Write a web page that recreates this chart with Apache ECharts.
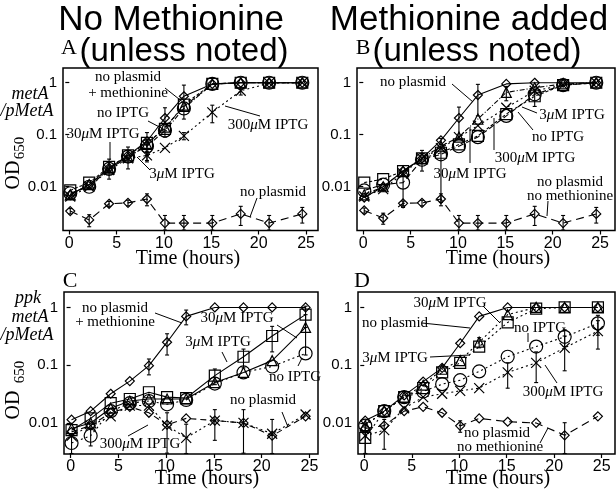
<!DOCTYPE html>
<html><head><meta charset="utf-8">
<script src="https://cdn.jsdelivr.net/npm/echarts@6/dist/echarts.min.js"></script>
<style>html,body{margin:0;padding:0;background:#fff}#c{width:616px;height:495px}</style>
</head><body><div id="c"></div>
<script>
// ---------- data ----------
const times = [0.1, 2.1, 4.2, 6.2, 8.2, 10.1, 12.1, 15.1, 18.1, 21.1, 24.6];
const xTicks = [0, 5, 10, 15, 20, 25];
const yTicks = [0.01, 0.1, 1];

// Panel A: metA/pMetA, no methionine
const A_noIPTG      = [0.0075,0.010,0.022,0.038,0.060,0.12,0.32,0.95,1.0,1.0,1.0];
const A_3uM         = [0.007,0.011,0.022,0.037,0.065,0.14,0.35,0.93,1.0,1.0,1.0];
const A_30uM        = [0.0085,0.012,0.024,0.040,0.070,0.13,0.38,0.95,1.0,1.0,1.0];
const A_300uM       = [0.0065,0.010,0.021,0.035,0.040,0.056,0.095,0.27,0.70,0.98,1.0];
const A_noPlasMet   = [0.007,0.011,0.023,0.040,0.075,0.21,0.55,0.95,1.0,1.0,1.0];
const A_noPlas      = [0.0034,0.0023,0.0047,0.0049,0.0058,0.0020,0.0020,0.0020,0.0030,0.0020,0.0030];
const A_noIPTG_sd    = [0,0,0,0,0.02,0,0,0,0,0,0];
const A_30uM_sd      = [0,0,0.010,0.018,0.04,0,0,0,0,0,0];
const A_300uM_sd     = [0,0,0,0,0.008,0,0.015,0.10,0.12,0,0];
const A_noPlasMet_sd = [0,0,0,0,0,0.12,0.35,0,0,0,0];
const A_noPlas_sd    = [0.0004,0.0006,0.0005,0.0006,0.0015,0.0008,0.0008,0.0008,0.0012,0.0008,0.0010];

// Panel B: metA/pMetA, methionine added
const B_noIPTG      = [0.0085,0.011,0.012,0.033,0.042,0.060,0.090,0.23,0.60,0.90,1.0];
const B_3uM         = [0.007,0.010,0.020,0.035,0.060,0.090,0.20,0.65,0.80,0.95,1.0];
const B_30uM        = [0.012,0.014,0.020,0.035,0.045,0.065,0.095,0.25,0.55,0.90,1.0];
const B_300uM       = [0.0065,0.009,0.018,0.035,0.055,0.090,0.15,0.33,0.70,0.90,1.0];
const B_noPlas      = [0.0062,0.010,0.020,0.035,0.078,0.21,0.58,0.95,1.0,1.0,1.0];
const B_noPlasNoMet = [0.0035,0.0025,0.0048,0.0049,0.0058,0.0020,0.0020,0.0020,0.0030,0.0020,0.0030];
const B_noIPTG_sd    = [0,0,0.008,0,0,0,0,0,0,0,0];
const B_3uM_sd       = [0,0,0,0,0,0,0,0.2,0,0,0];
const B_30uM_sd      = [0,0,0,0.015,0.04,0,0,0,0.2,0,0];
const B_noPlas_sd    = [0,0,0,0,0,0.13,0.35,0,0,0,0];
const B_noPlasNoMet_sd = [0.0004,0.0006,0.0005,0.0006,0.0015,0.0008,0.0008,0.0008,0.0012,0.0008,0.0010];

// Panel C: ppk metA/pMetA, no methionine
const C_noIPTG      = [0.0045,0.006,0.016,0.022,0.024,0.021,0.025,0.048,0.075,0.095,0.16];
const C_3uM         = [0.008,0.010,0.018,0.024,0.026,0.026,0.026,0.050,0.075,0.12,0.45];
const C_30uM        = [0.0075,0.012,0.022,0.026,0.034,0.028,0.027,0.066,0.14,0.32,0.75];
const C_300uM       = [0.006,0.009,0.013,0.020,0.020,0.009,0.0055,0.011,0.010,0.0065,0.014];
const C_noPlasMet   = [0.0114,0.016,0.032,0.053,0.098,0.25,0.70,1.0,1.0,1.0,1.0];
const C_noPlas      = [0.007,0.009,0.015,0.019,0.015,0.0093,0.012,0.011,0.010,0.006,0.013];
const C_noIPTG_sd    = [0.002,0.002,0,0,0,0,0,0,0,0,0];
const C_3uM_sd       = [0,0,0,0,0,0,0,0,0,0,0.3];
const C_30uM_sd      = [0,0,0,0,0,0,0,0.02,0.05,0.15,0.3];
const C_300uM_sd     = [0,0,0,0,0,0.006,0.004,0.006,0.007,0.005,0];
const C_noPlasMet_sd = [0,0,0,0,0.03,0.1,0.2,0,0,0,0];
const C_noPlas_sd    = [0,0,0,0,0,0,0,0,0,0,0];

// Panel D: ppk metA/pMetA, methionine added
const D_noIPTG      = [0.009,0.016,0.028,0.035,0.047,0.055,0.078,0.14,0.21,0.31,0.53];
const D_3uM         = [0.009,0.016,0.028,0.045,0.085,0.12,0.25,0.75,1.0,1.0,1.0];
const D_30uM        = [0.0055,0.016,0.028,0.040,0.075,0.11,0.21,0.55,0.95,1.0,1.0];
const D_300uM       = [0.006,0.0075,0.018,0.028,0.032,0.036,0.040,0.075,0.11,0.20,0.39];
const D_noPlas      = [0.011,0.016,0.030,0.052,0.090,0.24,0.70,1.0,1.0,1.0,1.0];
const D_noPlasNoMet = [0.008,0.009,0.016,0.019,0.015,0.0089,0.012,0.0105,0.010,0.0061,0.013];
const D_noIPTG_sd    = [0,0,0,0,0,0,0,0,0,0.1,0.2];
const D_3uM_sd       = [0,0,0,0,0,0,0.05,0,0,0,0];
const D_30uM_sd      = [0.003,0,0,0,0,0,0,0,0,0,0];
const D_300uM_sd     = [0.004,0.004,0,0,0,0,0,0.035,0.06,0.12,0.2];
const D_noPlasNoMet_sd = [0,0,0,0,0,0.002,0,0,0,0.004,0];

// ---------- layout ----------
const SERIF = 'Liberation Serif', SANS = 'Liberation Sans';
const grids = [
  {left:63,  top:68,  width:255, height:162.5},
  {left:357, top:68,  width:258, height:162.5},
  {left:64,  top:292, width:254, height:162},
  {left:358, top:292, width:257, height:162}
];
const xRanges = [[-0.665,26.26],[-0.665,26.58],[-0.69,25.9],[-0.66,26.4]];
const yRanges = [[0.00144,1.92],[0.00144,1.92],[0.0029,1.85],[0.0029,1.85]];

const XSYM = 'path://M0,0L10,10M10,0L0,10';
const sym = {
  circle: ['circle', 13], tri: ['triangle', 10], sq: ['rect', 11],
  x: [XSYM, 10], dia: ['diamond', 9]
};
const panels = [
  [ {d:A_noIPTG, sd:A_noIPTG_sd, s:'circle', dash:[5,2,1,2]},
    {d:A_3uM, s:'tri', dash:[6,3]},
    {d:A_30uM, sd:A_30uM_sd, s:'sq', dash:[3,2]},
    {d:A_300uM, sd:A_300uM_sd, s:'x', dash:[2,3]},
    {d:A_noPlasMet, sd:A_noPlasMet_sd, s:'dia', dash:'solid'},
    {d:A_noPlas, sd:A_noPlas_sd, s:'dia', dash:[8,5]} ],
  [ {d:B_noIPTG, sd:B_noIPTG_sd, s:'circle', dash:[6,3]},
    {d:B_3uM, sd:B_3uM_sd, s:'tri', dash:[5,2,1,2]},
    {d:B_30uM, sd:B_30uM_sd, s:'sq', dash:[3,2]},
    {d:B_300uM, s:'x', dash:[2,3]},
    {d:B_noPlas, sd:B_noPlas_sd, s:'dia', dash:'solid'},
    {d:B_noPlasNoMet, sd:B_noPlasNoMet_sd, s:'dia', dash:[8,5]} ],
  [ {d:C_noIPTG, sd:C_noIPTG_sd, s:'circle', dash:[2,3]},
    {d:C_3uM, sd:C_3uM_sd, s:'tri', dash:'solid'},
    {d:C_30uM, sd:C_30uM_sd, s:'sq', dash:'solid'},
    {d:C_300uM, sd:C_300uM_sd, s:'x', dash:[2,3]},
    {d:C_noPlasMet, sd:C_noPlasMet_sd, s:'dia', dash:'solid'},
    {d:C_noPlas, sd:C_noPlas_sd, s:'dia', dash:[6,4]} ],
  [ {d:D_noIPTG, sd:D_noIPTG_sd, s:'circle', dash:[2,3]},
    {d:D_3uM, sd:D_3uM_sd, s:'tri', dash:[2,3]},
    {d:D_30uM, sd:D_30uM_sd, s:'sq', dash:[2,3]},
    {d:D_300uM, sd:D_300uM_sd, s:'x', dash:[2,3]},
    {d:D_noPlas, s:'dia', dash:'solid'},
    {d:D_noPlasNoMet, sd:D_noPlasNoMet_sd, s:'dia', dash:[8,5]} ]
];

const grid = grids.map(g => Object.assign({show:true, borderColor:'#000', borderWidth:1.5, backgroundColor:'transparent'}, g));
const xAxis = grids.map((g,i) => ({
  type:'value', gridIndex:i, min:xRanges[i][0], max:xRanges[i][1],
  splitLine:{show:false}, axisLine:{show:false},
  axisTick:{show:true, inside:false, length:4, lineStyle:{color:'#000', width:1.2}, customValues:xTicks},
  axisLabel:{color:'#000', fontFamily:SANS, fontSize:16, margin:5, customValues:xTicks}
}));
const yAxis = grids.map((g,i) => ({
  type:'log', logBase:10, gridIndex:i, min:yRanges[i][0], max:yRanges[i][1],
  splitLine:{show:false}, axisLine:{show:false}, minorTick:{show:false},
  axisTick:{show:true, inside:false, length:4, lineStyle:{color:'#000', width:1.2}, customValues:yTicks},
  axisLabel:{color:'#000', fontFamily:SANS, fontSize:15, margin:6, customValues:yTicks,
    formatter: v => String(+(+v).toPrecision(3))}
}));

const series = [];
panels.forEach((list, pi) => {
  const errRows = [];
  list.forEach(cfg => {
    const [symbol, size] = sym[cfg.s];
    series.push({
      type:'line', xAxisIndex:pi, yAxisIndex:pi,
      data: times.map((t,k) => [t, cfg.d[k]]),
      symbol, symbolSize:size, showAllSymbol:true,
      itemStyle:{color:'rgba(0,0,0,0)', borderColor:'#000', borderWidth:1.2},
      lineStyle:{color:'#000', width:1.1, type:cfg.dash},
      emphasis:{disabled:true}, animation:false, z:3
    });
    if (cfg.sd) cfg.sd.forEach((s,k) => {
      if (s > 0) errRows.push([times[k], Math.max(cfg.d[k]-s, yRanges[pi][0]*1.02), Math.min(cfg.d[k]+s, yRanges[pi][1])]);
    });
  });
  series.push({
    type:'custom', xAxisIndex:pi, yAxisIndex:pi, data:errRows, encode:{x:0, y:[1,2]},
    animation:false, z:4,
    renderItem: (params, api) => {
      const x = api.value(0);
      const p1 = api.coord([x, api.value(2)]), p2 = api.coord([x, api.value(1)]);
      const st = {stroke:'#000', lineWidth:1.1};
      return {type:'group', children:[
        {type:'line', shape:{x1:p1[0], y1:p1[1], x2:p2[0], y2:p2[1]}, style:st},
        {type:'line', shape:{x1:p1[0]-2, y1:p1[1], x2:p1[0]+2, y2:p1[1]}, style:st},
        {type:'line', shape:{x1:p2[0]-2, y1:p2[1], x2:p2[0]+2, y2:p2[1]}, style:st}
      ]};
    }
  });
});

// ---------- annotations ----------
const G = [];
function txt(x, y, text, size, family, extra) {
  G.push({type:'text', z:10, style:Object.assign({
    text, x, y, fill:'#000', fontSize:size, fontFamily:family,
    textAlign:'center', textVerticalAlign:'middle', align:'center', verticalAlign:'middle',
    rich:{i:{fontStyle:'italic', fontSize:size, fontFamily:family}}
  }, extra||{})});
}
function ln(x1,y1,x2,y2){ G.push({type:'line', z:10, shape:{x1,y1,x2,y2}, style:{stroke:'#000', lineWidth:1}}); }

// titles
txt(171, 20, 'No Methionine', 35, SANS);
txt(184, 52, '(unless noted)', 33, SANS);
txt(469, 20, 'Methionine added', 35, SANS);
txt(477, 52, '(unless noted)', 33, SANS);
// panel letters
txt(69, 48, 'A', 22, SERIF); txt(363, 48, 'B', 22, SERIF);
txt(70, 281, 'C', 22, SERIF); txt(362, 281, 'D', 22, SERIF);
// row labels
txt(30, 94, 'metA', 18, SERIF, {fontStyle:'italic'});
txt(27, 111, '/pMetA', 18, SERIF, {fontStyle:'italic'});
txt(28, 298, 'ppk', 18, SERIF, {fontStyle:'italic'});
txt(30, 317, 'metA', 18, SERIF, {fontStyle:'italic'});
txt(27, 335, '/pMetA', 18, SERIF, {fontStyle:'italic'});
// OD 650
[[175,148],[405,372]].forEach(([yOD, y650]) => {
  G.push({type:'text', z:10, x:14, y:yOD, rotation:Math.PI/2, style:{text:'OD', fontSize:20, fontFamily:SERIF, fill:'#000', textAlign:'center', textVerticalAlign:'middle', align:'center', verticalAlign:'middle'}});
  G.push({type:'text', z:10, x:20, y:y650, rotation:Math.PI/2, style:{text:'650', fontSize:15, fontFamily:SERIF, fill:'#000', textAlign:'center', textVerticalAlign:'middle', align:'center', verticalAlign:'middle'}});
});
// x axis titles
txt(188, 259, 'Time (hours)', 20, SERIF);
txt(498, 259, 'Time (hours)', 20, SERIF);
txt(207, 479, 'Time (hours)', 20, SERIF);
txt(498, 479, 'Time (hours)', 20, SERIF);

// Panel A labels
txt(128, 77, 'no plasmid', 15, SERIF); txt(128, 93, '+ methionine', 15, SERIF);
ln(165, 88, 184, 103);
txt(123, 113, 'no IPTG', 15, SERIF); ln(148, 121, 167, 131);
txt(103, 134, '30{i|μ}M IPTG', 15, SERIF); ln(110, 142, 110, 160);
txt(182, 174, '3{i|μ}M IPTG', 15, SERIF); ln(137, 157, 150, 170);
txt(268, 125, '300{i|μ}M IPTG', 15, SERIF); ln(225, 106, 260, 116);
txt(273, 192, 'no plasmid', 15, SERIF); ln(257, 198, 250, 217);
// Panel B labels
txt(413, 82, 'no plasmid', 15, SERIF); ln(452, 84, 473, 102);
txt(572, 115, '3{i|μ}M IPTG', 15, SERIF); ln(537, 113, 522, 107);
txt(558, 137, 'no IPTG', 15, SERIF); ln(533, 130, 518, 112);
txt(535, 158, '300{i|μ}M IPTG', 15, SERIF); ln(494, 150, 494, 118);
txt(470, 174, '30{i|μ}M IPTG', 15, SERIF); ln(470, 163, 470, 127);
txt(570, 182, 'no plasmid', 15, SERIF); txt(570, 196, 'no methionine', 15, SERIF);
ln(548, 201, 547, 216);
// Panel C labels
txt(115, 308, 'no plasmid', 15, SERIF); txt(115, 322, '+ methionine', 15, SERIF);
ln(155, 313, 182, 323);
txt(237, 318, '30{i|μ}M IPTG', 15, SERIF); ln(277, 325, 297, 338);
txt(218, 342, '3{i|μ}M IPTG', 15, SERIF); ln(222, 352, 227, 362);
txt(295, 377, 'no IPTG', 15, SERIF); ln(298, 366, 302, 358);
txt(263, 400, 'no plasmid', 15, SERIF); ln(282, 412, 288, 427);
txt(140, 444, '300{i|μ}M IPTG', 15, SERIF); ln(128, 436, 148, 425);
// Panel D labels
txt(450, 303, '30{i|μ}M IPTG', 15, SERIF); ln(483, 306, 500, 323);
txt(395, 323, 'no plasmid', 15, SERIF); ln(422, 323, 470, 328);
txt(395, 358, '3{i|μ}M IPTG', 15, SERIF); ln(430, 357, 470, 355);
txt(540, 328, 'no IPTG', 15, SERIF); ln(528, 333, 528, 342);
txt(563, 392, '300{i|μ}M IPTG', 15, SERIF); ln(557, 383, 545, 365);
txt(497, 433, 'no plasmid', 15, SERIF); txt(500, 447, 'no methionine', 15, SERIF);
ln(540, 443, 548, 428);

const chart = echarts.init(document.getElementById('c'), null, {renderer:'canvas'});
chart.setOption({animation:false, grid, xAxis, yAxis, series, graphic:G});
</script></body></html>
